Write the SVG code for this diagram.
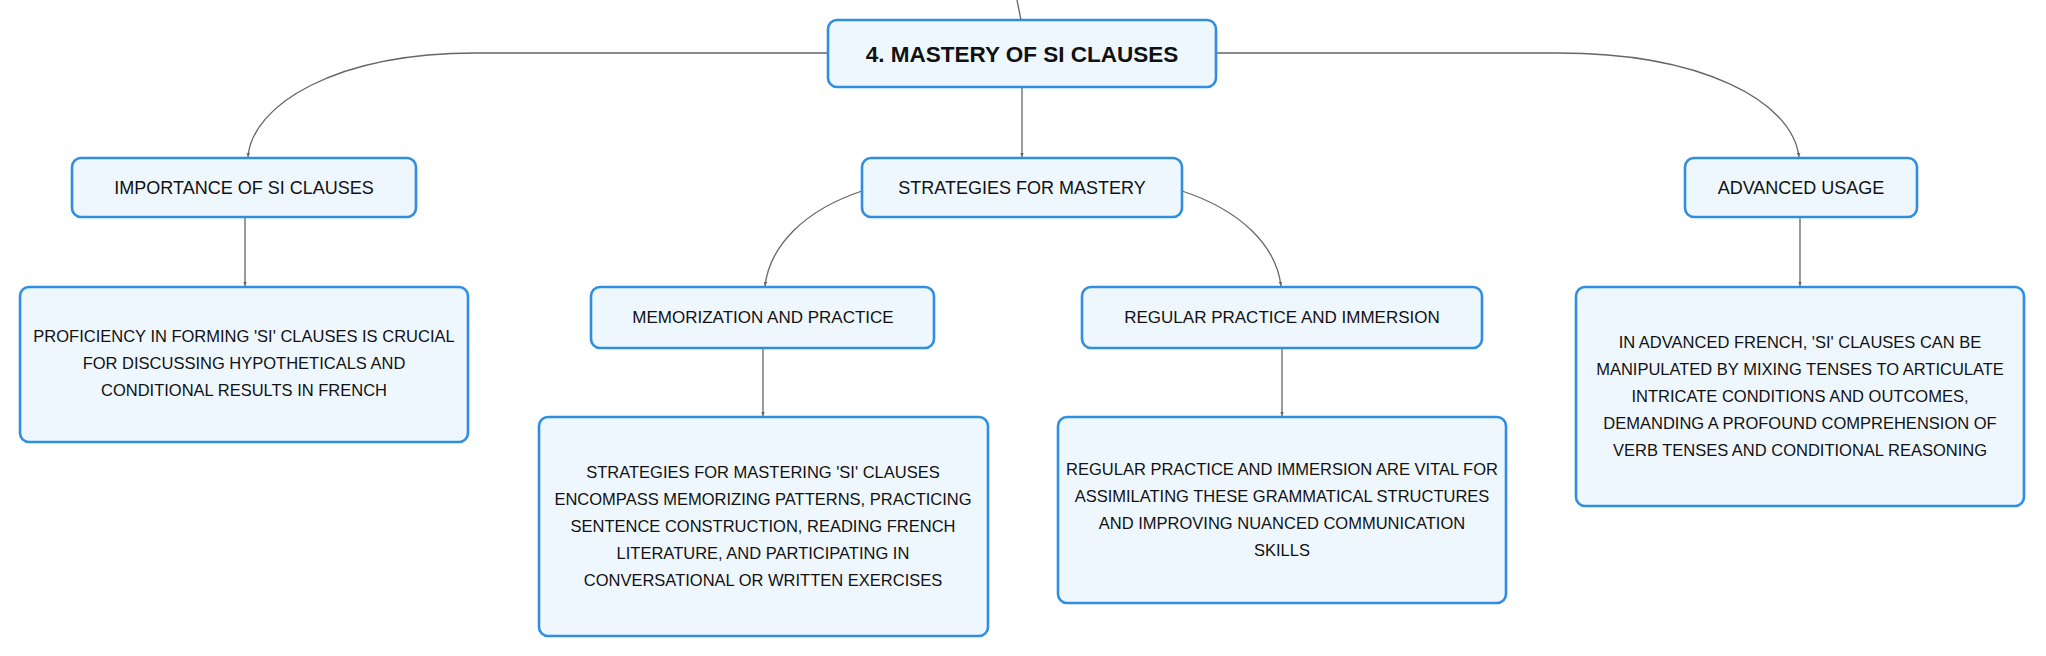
<svg xmlns="http://www.w3.org/2000/svg" width="2046" height="656" viewBox="0 0 2046 656">
<defs>
<marker id="arr" viewBox="0 0 8 8" refX="7" refY="4" markerWidth="5" markerHeight="5" orient="auto" markerUnits="userSpaceOnUse">
<path d="M0,1 L7,4 L0,7 z" fill="#666"/>
</marker>
<style>
.box{fill:#eff7fe;stroke:#2f8ee0;stroke-width:2.6}
.t{font-family:"Liberation Sans",Arial,sans-serif;fill:#111;text-anchor:middle;dominant-baseline:central}
.root{font-size:22.5px;font-weight:bold}
.l1{font-size:18px}
.l2{font-size:17px}
.body{font-size:16.5px}
.c{fill:none;stroke:#666;stroke-width:1.3}
</style>
</defs>
<rect width="2046" height="656" fill="#fff"/>
<g id="connectors">
<path class="c" d="M1021,20 Q1019,10 1017,0"/>
<path class="c" d="M828,53 L476,53 C335,53 252,105 248,157" marker-end="url(#arr)"/>
<path class="c" d="M1216,53 L1558,53 C1700,53 1792,100 1799,157" marker-end="url(#arr)"/>
<path class="c" d="M1022,87 L1022,157" marker-end="url(#arr)"/>
<path class="c" d="M862,191 C805,210 770,245 765,286" marker-end="url(#arr)"/>
<path class="c" d="M1182,191 C1240,210 1276,245 1281,286" marker-end="url(#arr)"/>
<path class="c" d="M245,217 L245,286" marker-end="url(#arr)"/>
<path class="c" d="M763,348 L763,416" marker-end="url(#arr)"/>
<path class="c" d="M1282,348 L1282,416" marker-end="url(#arr)"/>
<path class="c" d="M1800,217 L1800,286" marker-end="url(#arr)"/>
</g>
<g id="root">
<rect class="box" x="828" y="20" width="388" height="67" rx="9"/>
<text class="t root" x="1022" y="54">4. MASTERY OF SI CLAUSES</text>
</g>
<g id="importance">
<rect class="box" x="72" y="158" width="344" height="59" rx="9"/>
<text class="t l1" x="244" y="187.5">IMPORTANCE OF SI CLAUSES</text>
</g>
<g id="strategies">
<rect class="box" x="862" y="158" width="320" height="59" rx="9"/>
<text class="t l1" x="1022" y="187.5">STRATEGIES FOR MASTERY</text>
</g>
<g id="advanced">
<rect class="box" x="1685" y="158" width="232" height="59" rx="9"/>
<text class="t l1" x="1801" y="187.5">ADVANCED USAGE</text>
</g>
<g id="proficiency">
<rect class="box" x="20" y="287" width="448" height="155" rx="9"/>
<text class="t body" x="244" y="336">PROFICIENCY IN FORMING 'SI' CLAUSES IS CRUCIAL</text>
<text class="t body" x="244" y="363">FOR DISCUSSING HYPOTHETICALS AND</text>
<text class="t body" x="244" y="390">CONDITIONAL RESULTS IN FRENCH</text>
</g>
<g id="memorization">
<rect class="box" x="591" y="287" width="343" height="61" rx="9"/>
<text class="t l2" x="763" y="317.5">MEMORIZATION AND PRACTICE</text>
</g>
<g id="strategies-text">
<rect class="box" x="539" y="417" width="449" height="219" rx="9"/>
<text class="t body" x="763" y="472">STRATEGIES FOR MASTERING 'SI' CLAUSES</text>
<text class="t body" x="763" y="499">ENCOMPASS MEMORIZING PATTERNS, PRACTICING</text>
<text class="t body" x="763" y="526">SENTENCE CONSTRUCTION, READING FRENCH</text>
<text class="t body" x="763" y="553">LITERATURE, AND PARTICIPATING IN</text>
<text class="t body" x="763" y="580">CONVERSATIONAL OR WRITTEN EXERCISES</text>
</g>
<g id="regular">
<rect class="box" x="1082" y="287" width="400" height="61" rx="9"/>
<text class="t l2" x="1282" y="317.5">REGULAR PRACTICE AND IMMERSION</text>
</g>
<g id="regular-text">
<rect class="box" x="1058" y="417" width="448" height="186" rx="9"/>
<text class="t body" x="1282" y="469">REGULAR PRACTICE AND IMMERSION ARE VITAL FOR</text>
<text class="t body" x="1282" y="496">ASSIMILATING THESE GRAMMATICAL STRUCTURES</text>
<text class="t body" x="1282" y="523">AND IMPROVING NUANCED COMMUNICATION</text>
<text class="t body" x="1282" y="550">SKILLS</text>
</g>
<g id="advanced-text">
<rect class="box" x="1576" y="287" width="448" height="219" rx="9"/>
<text class="t body" x="1800" y="342">IN ADVANCED FRENCH, 'SI' CLAUSES CAN BE</text>
<text class="t body" x="1800" y="369">MANIPULATED BY MIXING TENSES TO ARTICULATE</text>
<text class="t body" x="1800" y="396">INTRICATE CONDITIONS AND OUTCOMES,</text>
<text class="t body" x="1800" y="423">DEMANDING A PROFOUND COMPREHENSION OF</text>
<text class="t body" x="1800" y="450">VERB TENSES AND CONDITIONAL REASONING</text>
</g>
</svg>
